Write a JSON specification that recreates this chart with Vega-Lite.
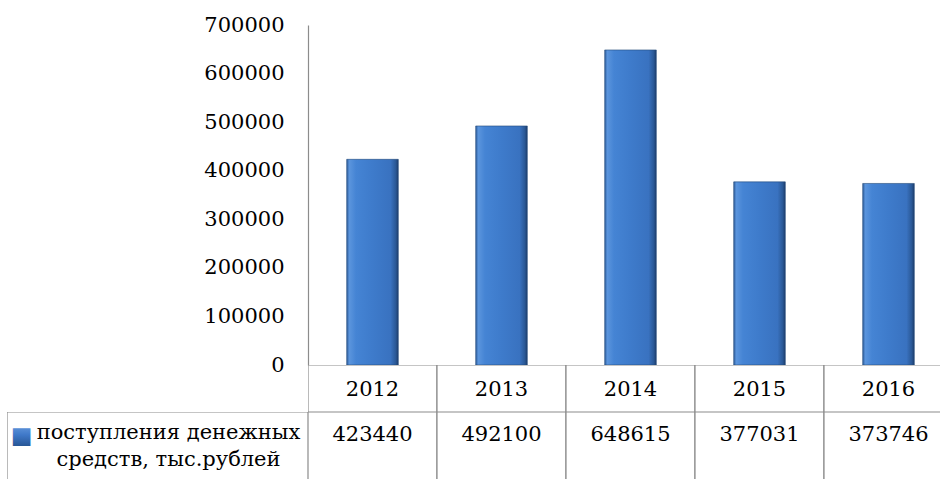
{
  "$schema": "https://vega.github.io/schema/vega-lite/v6.json",
  "background": "white",
  "autosize": {"type": "pad"},
  "padding": {"left": 7, "top": 14, "right": 0, "bottom": 0},
  "config": {"view": {"stroke": null}, "concat": {"spacing": 0}},
  "datasets": {
    "d": [
      {"year": "2012", "value": 423440},
      {"year": "2013", "value": 492100},
      {"year": "2014", "value": 648615},
      {"year": "2015", "value": 377031},
      {"year": "2016", "value": 373746}
    ],
    "hdr": [
      {"label": "поступления денежных\nсредств, тыс.рублей", "mark": "■"}
    ]
  },
  "columns": 2,
  "spacing": 0,
  "bounds": "flush",
  "concat": [
    {
      "width": 301, "height": 340,
      "data": {"values": [{}]},
      "mark": {"type": "text", "text": ""},
      "encoding": {}
    },
    {
      "width": 632, "height": 340,
      "data": {"name": "d"},
      "mark": {
        "type": "bar",
        "fill": {
          "x1": 0, "y1": 0, "x2": 1, "y2": 0, "gradient": "linear",
          "stops": [
            {"offset": 0, "color": "#2c5c9a"},
            {"offset": 0.05, "color": "#5b95dd"},
            {"offset": 0.18, "color": "#4584d4"},
            {"offset": 0.5, "color": "#3e7bcb"},
            {"offset": 0.85, "color": "#3972c0"},
            {"offset": 0.95, "color": "#2a5896"},
            {"offset": 1, "color": "#1c3d6b"}
          ]
        },
        "stroke": "#24497a",
        "strokeWidth": 0.6
      },
      "encoding": {
        "x": {
          "field": "year", "type": "ordinal", "axis": null,
          "scale": {"range": [0, 645], "paddingInner": 0.6, "paddingOuter": 0.3}
        },
        "y": {
          "field": "value", "type": "quantitative",
          "scale": {"domain": [0, 700000], "nice": false},
          "axis": {
            "title": null,
            "values": [0, 100000, 200000, 300000, 400000, 500000, 600000, 700000],
            "format": "d",
            "ticks": false,
            "grid": false,
            "domainColor": "#8c8c8c",
            "domainWidth": 1.2,
            "labelFont": "DejaVu Serif",
            "labelFontSize": 21,
            "labelColor": "#000000",
            "labelPadding": 24
          }
        }
      }
    },
    {
      "width": 301, "height": 47,
      "data": {"values": [{}]},
      "mark": {"type": "text", "text": ""},
      "encoding": {}
    },
    {
      "width": 632, "height": 47,
      "data": {"name": "d"},
      "layer": [
        {
          "mark": {"type": "rect", "fill": "white", "stroke": "#8c8c8c", "strokeWidth": 1.2, "clip": true},
          "encoding": {
            "x": {
              "field": "year", "type": "ordinal", "axis": null,
              "scale": {"range": [0, 645], "paddingInner": 0, "paddingOuter": 0}
            }
          }
        },
        {
          "mark": {"type": "text", "font": "DejaVu Serif", "fontSize": 21, "color": "#000000", "dy": 1},
          "encoding": {
            "x": {"field": "year", "type": "ordinal"},
            "text": {"field": "year"}
          }
        }
      ]
    },
    {
      "width": 301, "height": 68,
      "data": {"name": "hdr"},
      "layer": [
        {
          "mark": {"type": "rect", "fill": "white", "stroke": "#8c8c8c", "strokeWidth": 1.2, "clip": true},
          "encoding": {
            "y": {"datum": "v", "type": "nominal", "axis": null, "scale": {"range": [0, 100]}}
          }
        },
        {
          "mark": {"type": "text", "font": "DejaVu Serif", "fontSize": 21, "color": "#000000", "lineBreak": "\n", "lineHeight": 27, "dx": 11, "dy": -13},
          "encoding": {"text": {"field": "label"}}
        },
        {
          "mark": {
            "type": "text", "font": "DejaVu Sans", "fontSize": 23,
            "fill": {
              "x1": 0, "y1": 0, "x2": 0, "y2": 1, "gradient": "linear",
              "stops": [
                {"offset": 0, "color": "#6ea2e3"},
                {"offset": 0.5, "color": "#3f78c8"},
                {"offset": 1, "color": "#23508c"}
              ]
            },
            "dx": -136, "dy": -10
          },
          "encoding": {"text": {"field": "mark"}}
        }
      ]
    },
    {
      "width": 632, "height": 68,
      "data": {"name": "d"},
      "layer": [
        {
          "mark": {"type": "rect", "fill": "white", "stroke": "#8c8c8c", "strokeWidth": 1.2, "clip": true},
          "encoding": {
            "x": {
              "field": "year", "type": "ordinal", "axis": null,
              "scale": {"range": [0, 645], "paddingInner": 0, "paddingOuter": 0}
            },
            "y": {"datum": "v", "type": "nominal", "axis": null, "scale": {"range": [0, 100]}}
          }
        },
        {
          "mark": {"type": "text", "font": "DejaVu Serif", "fontSize": 21, "color": "#000000", "dy": -11},
          "encoding": {
            "x": {"field": "year", "type": "ordinal"},
            "text": {"field": "value", "format": "d"}
          }
        }
      ]
    }
  ]
}
